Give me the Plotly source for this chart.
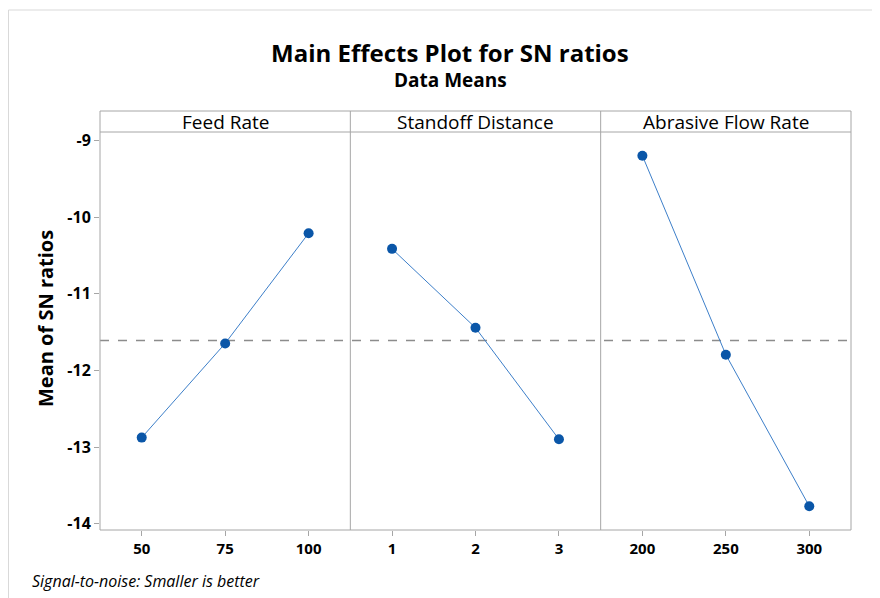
import plotly.graph_objects as go
from plotly.subplots import make_subplots

# ---- data ----
factors = ["Feed Rate", "Standoff Distance", "Abrasive Flow Rate"]
feed_levels = [50, 75, 100]
feed_means = [-12.875, -11.647, -10.21]
standoff_levels = [1, 2, 3]
standoff_means = [-10.414, -11.443, -12.897]
afr_levels = [200, 250, 300]
afr_means = [-9.199, -11.794, -13.77]
grand_mean = -11.61
y_ticks = [-9, -10, -11, -12, -13, -14]

levels = [feed_levels, standoff_levels, afr_levels]
means = [feed_means, standoff_means, afr_means]

OFF = 8  # default page body margin
W, H = 880 - OFF, 598 - OFF
ML, MR, MT, MB = 100 - OFF, 29, 132 - OFF, 68
PW = W - ML - MR
PH = H - MT - MB

def px_x(p):
    return (p - OFF - ML) / PW

def px_y(p):
    return (H - MB - (p - OFF)) / PH

FONT = "Open Sans"
GRID = "#a6a6a6"
MARK = "#0a56a8"
LINE = "#3d7fc9"

fig = make_subplots(rows=1, cols=3, shared_yaxes=True, horizontal_spacing=0)

for i in range(3):
    fig.add_trace(
        go.Scatter(
            x=[str(v) for v in levels[i]],
            y=means[i],
            mode="lines+markers",
            line=dict(color=LINE, width=1),
            marker=dict(color=MARK, size=10),
            showlegend=False,
            hoverinfo="x+y",
        ),
        row=1, col=i + 1,
    )
    fig.update_xaxes(
        type="category", range=[-0.5, 2.5],
        showline=False, showgrid=False, zeroline=False,
        ticks="outside", ticklen=5, tickcolor=GRID,
        tickfont=dict(family=FONT, size=15, color="black", weight="bold"),
        row=1, col=i + 1,
    )

fig.update_yaxes(
    range=[-14.08, -8.89],
    tickvals=y_ticks,
    ticktext=[str(v) for v in y_ticks],
    showline=False, showgrid=False, zeroline=False,
)
fig.update_yaxes(
    ticks="outside", ticklen=5, tickcolor=GRID,
    tickfont=dict(family=FONT, size=16, color="black", weight="bold"),
    row=1, col=1,
)

shapes = []
shapes.append(dict(type="line", xref="paper", yref="y", x0=0, x1=1,
                   y0=grand_mean, y1=grand_mean,
                   line=dict(color="#8c8c8c", width=1.5, dash="dash"), layer="below"))
hy1 = px_y(111)
shapes.append(dict(type="rect", xref="paper", yref="paper", x0=0, x1=1, y0=0, y1=hy1,
                   line=dict(color=GRID, width=1)))
shapes.append(dict(type="line", xref="paper", yref="paper", x0=0, x1=1, y0=1, y1=1,
                   line=dict(color=GRID, width=1)))
for k in (1, 2):
    shapes.append(dict(type="line", xref="paper", yref="paper", x0=k / 3, x1=k / 3,
                       y0=0, y1=hy1, line=dict(color=GRID, width=1)))
# faint outer frame
shapes.append(dict(type="rect", xref="paper", yref="paper",
                   x0=px_x(8.5), x1=px_x(873), y0=px_y(620), y1=px_y(10),
                   line=dict(color="#d9d9d9", width=1)))

annotations = []
for k, name in enumerate(factors):
    annotations.append(dict(text=name, xref="paper", yref="paper",
                            x=(k + 0.5) / 3, y=(1 + hy1) / 2, showarrow=False,
                            xanchor="center", yanchor="middle",
                            font=dict(family=FONT, size=19, color="black")))
annotations.append(dict(text="<b>Main Effects Plot for SN ratios</b>", xref="paper", yref="paper",
                        x=px_x(450), y=px_y(52), showarrow=False, xanchor="center", yanchor="middle",
                        font=dict(family=FONT, size=24, color="black")))
annotations.append(dict(text="<b>Data Means</b>", xref="paper", yref="paper",
                        x=px_x(450), y=px_y(80), showarrow=False, xanchor="center", yanchor="middle",
                        font=dict(family=FONT, size=19, color="black")))
annotations.append(dict(text="<b>Mean of SN ratios</b>", xref="paper", yref="paper",
                        x=px_x(45), y=px_y(319), showarrow=False, textangle=-90,
                        xanchor="center", yanchor="middle",
                        font=dict(family=FONT, size=20, color="black")))
annotations.append(dict(text="<i>Signal-to-noise: Smaller is better</i>", xref="paper", yref="paper",
                        x=px_x(30), y=px_y(581), showarrow=False, xanchor="left", yanchor="middle",
                        font=dict(family=FONT, size=16, color="black")))

fig.update_layout(
    width=W, height=H,
    margin=dict(l=ML, r=MR, t=MT, b=MB),
    paper_bgcolor="white", plot_bgcolor="white",
    shapes=shapes, annotations=annotations,
    font=dict(family=FONT, color="black"),
)

fig.write_html("out.html")
